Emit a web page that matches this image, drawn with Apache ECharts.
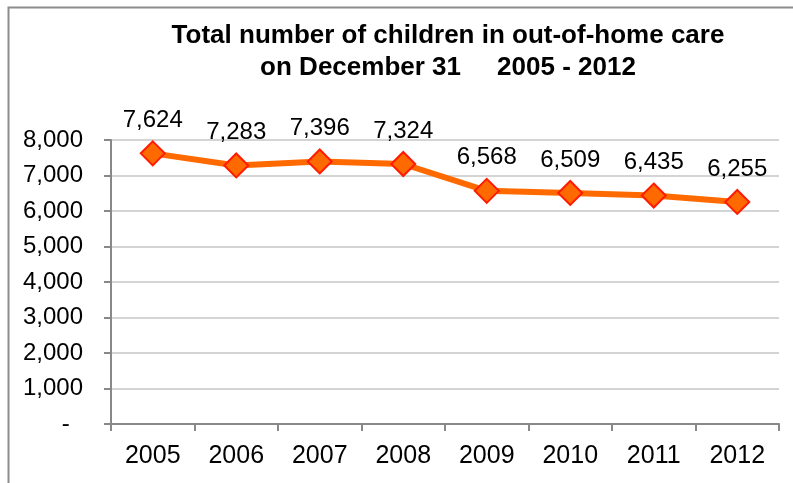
<!DOCTYPE html>
<html><head><meta charset="utf-8">
<script src="https://cdn.jsdelivr.net/npm/echarts@6/dist/echarts.min.js"></script>
<style>html,body{margin:0;padding:0;background:#fff}#c{width:793px;height:483px}</style>
</head><body><div id="c"></div>
<script>
var years = ['2005','2006','2007','2008','2009','2010','2011','2012'];
var children = [7624, 7283, 7396, 7324, 6568, 6509, 6435, 6255];
var yTicks = [0,1000,2000,3000,4000,5000,6000,7000,8000];

var chart = echarts.init(document.getElementById('c'));
chart.setOption({
  animation: false,
  backgroundColor: '#fff',
  graphic: [{
    type: 'polyline', z: 0,
    shape: {points: [[8.5, 490], [8.5, 7.5], [800, 7.5]]},
    style: {stroke: '#8c8c8c', lineWidth: 2, fill: null}
  }],
  title: {
    text: 'Total number of children in out-of-home care\non December 31     2005 - 2012',
    left: 443, top: 15, textAlign: 'center',
    textStyle: {fontFamily: 'Liberation Sans', fontWeight: 'bold', fontSize: 26, lineHeight: 32, color: '#000'}
  },
  grid: {left: 111, right: 14, top: 140, bottom: 59, containLabel: false},
  xAxis: {
    type: 'category', data: years, boundaryGap: true,
    axisLine: {lineStyle: {color: '#888', width: 2}},
    axisTick: {show: true, length: 7, lineStyle: {color: '#888', width: 2}},
    axisLabel: {fontFamily: 'Liberation Sans', fontSize: 25, color: '#000', margin: 20}
  },
  yAxis: {
    type: 'value', min: 0, max: 8000, interval: 1000,
    axisLine: {show: true, lineStyle: {color: '#888', width: 2}},
    axisTick: {show: true, length: 7, lineStyle: {color: '#888', width: 2}},
    splitLine: {lineStyle: {color: '#d4d4d4', width: 2}},
    axisLabel: {fontFamily: 'Liberation Sans', fontSize: 24, color: '#000', margin: 28,
      formatter: function(v){ return v === 0 ? '-  ' : v.toLocaleString('en-US'); }}
  },
  series: [{
    type: 'line', data: children,
    lineStyle: {color: '#ff6a00', width: 6},
    symbol: 'diamond', symbolSize: 24,
    itemStyle: {color: '#ff6a00', borderColor: '#ff1a00', borderWidth: 2},
    label: {show: true, position: 'top', distance: 8, fontFamily: 'Liberation Sans', fontSize: 24, color: '#000',
      formatter: function(p){ return p.value.toLocaleString('en-US'); }}
  }]
});
</script></body></html>
